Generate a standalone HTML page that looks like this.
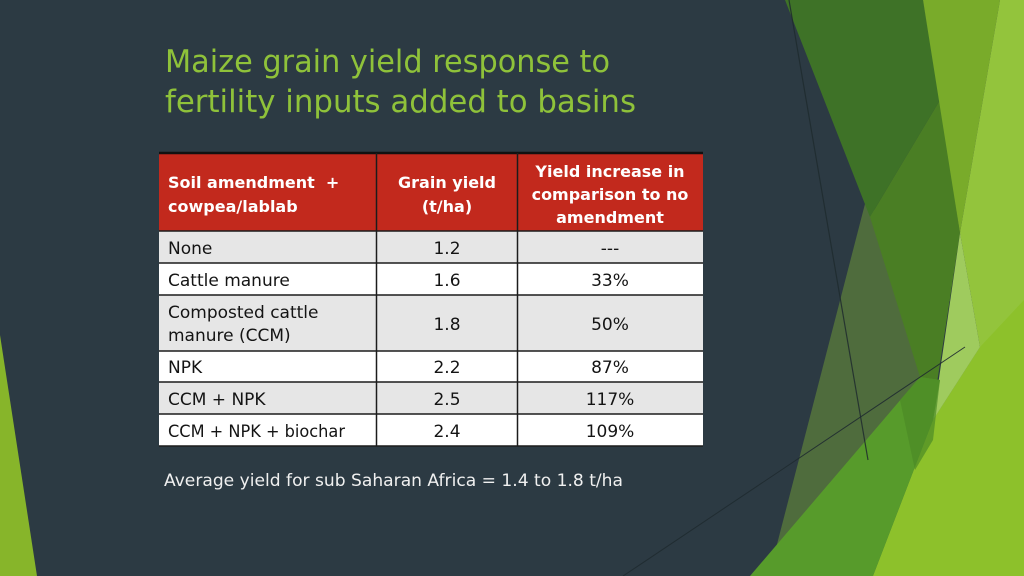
<!DOCTYPE html>
<html>
<head>
<meta charset="utf-8">
<style>
  html,body{margin:0;padding:0;background:#2c3a43;}
  body{width:1024px;height:576px;overflow:hidden;}
  svg{display:block;}
</style>
</head>
<body>
<svg width="1024" height="576" viewBox="0 0 1024 576" xmlns="http://www.w3.org/2000/svg">
  <!-- background -->
  <rect x="0" y="0" width="1024" height="576" fill="#2c3a43"/>

  <!-- left green sliver -->
  <polygon points="0,335 37,576 0,576" fill="#87b52a"/>

  <!-- right decorative facets -->
  <polygon points="866,200 775,552 925,372 950,300" fill="#4f6c3d"/>
  <polygon points="785,0 923,0 940,100 870,217" fill="#3e7227"/>
  <polygon points="940,100 960,233 937,383 920,377 870,217" fill="#4a7e24"/>
  <polygon points="923,0 1000,0 960,233" fill="#79ab2a"/>
  <polygon points="1000,0 1024,0 1024,576 873,576 933,420 980,347 960,233" fill="#93c43c"/>
  <polygon points="873,576 933,420 980,347 1024,300 1024,576" fill="#8dc12b"/>
  <polygon points="960,233 980,347 933,420" fill="#9fcb5e"/>
  <polygon points="750,576 920,377 940,380 933,420 873,576" fill="#579b2b"/>
  <polygon points="900,400 920,377 940,380 933,440 915,470" fill="#4c8a26" opacity="0.7"/>

  <!-- thin lines -->
  <line x1="789" y1="0" x2="868" y2="460" stroke="#1f2b2e" stroke-width="1.2" opacity="0.85"/>
  <line x1="623" y1="576" x2="965" y2="347" stroke="#1f2b30" stroke-width="1" opacity="0.9"/>

  <!-- title -->
  <g font-family="'DejaVu Sans', 'Liberation Sans', sans-serif" font-size="31" fill="#8fc23a">
    <text x="165" y="72" textLength="445" lengthAdjust="spacingAndGlyphs">Maize grain yield response to</text>
    <text x="165" y="112" textLength="471" lengthAdjust="spacingAndGlyphs">fertility inputs added to basins</text>
  </g>

  <!-- table backgrounds -->
  <rect x="159" y="153" width="544" height="78" fill="#c2291d"/>
  <rect x="159" y="231" width="544" height="32" fill="#e6e6e6"/>
  <rect x="159" y="263" width="544" height="32" fill="#ffffff"/>
  <rect x="159" y="295" width="544" height="56" fill="#e6e6e6"/>
  <rect x="159" y="351" width="544" height="31" fill="#ffffff"/>
  <rect x="159" y="382" width="544" height="32" fill="#e6e6e6"/>
  <rect x="159" y="414" width="544" height="32" fill="#ffffff"/>

  <!-- table grid -->
  <line x1="159" y1="153" x2="703" y2="153" stroke="#111" stroke-width="2.5"/>
  <g stroke="#1c1c1c" stroke-width="1.5">
    <line x1="159" y1="231" x2="703" y2="231"/>
    <line x1="159" y1="263" x2="703" y2="263"/>
    <line x1="159" y1="295" x2="703" y2="295"/>
    <line x1="159" y1="351" x2="703" y2="351"/>
    <line x1="159" y1="382" x2="703" y2="382"/>
    <line x1="159" y1="414" x2="703" y2="414"/>
    <line x1="159" y1="446" x2="703" y2="446"/>
    <line x1="376.5" y1="153" x2="376.5" y2="446"/>
    <line x1="517.5" y1="153" x2="517.5" y2="446"/>
  </g>

  <!-- header text -->
  <g font-family="'DejaVu Sans', 'Liberation Sans', sans-serif" font-size="16" font-weight="bold" fill="#ffffff">
    <text x="168" y="188" xml:space="preserve">Soil amendment  +</text>
    <text x="168" y="212">cowpea/lablab</text>
    <text x="447" y="188" text-anchor="middle">Grain yield</text>
    <text x="447" y="212" text-anchor="middle">(t/ha)</text>
    <text x="610" y="177" text-anchor="middle">Yield increase in</text>
    <text x="610" y="200" text-anchor="middle">comparison to no</text>
    <text x="610" y="223" text-anchor="middle">amendment</text>
  </g>

  <!-- body text -->
  <g font-family="'DejaVu Sans', 'Liberation Sans', sans-serif" font-size="17" fill="#141414">
    <text x="168" y="254">None</text>
    <text x="447" y="254" text-anchor="middle">1.2</text>
    <text x="610" y="254" text-anchor="middle">---</text>

    <text x="168" y="286">Cattle manure</text>
    <text x="447" y="286" text-anchor="middle">1.6</text>
    <text x="610" y="286" text-anchor="middle">33%</text>

    <text x="168" y="318">Composted cattle</text>
    <text x="168" y="341">manure (CCM)</text>
    <text x="447" y="330" text-anchor="middle">1.8</text>
    <text x="610" y="330" text-anchor="middle">50%</text>

    <text x="168" y="373">NPK</text>
    <text x="447" y="373" text-anchor="middle">2.2</text>
    <text x="610" y="373" text-anchor="middle">87%</text>

    <text x="168" y="405">CCM + NPK</text>
    <text x="447" y="405" text-anchor="middle">2.5</text>
    <text x="610" y="405" text-anchor="middle">117%</text>

    <text x="168" y="437" textLength="177" lengthAdjust="spacingAndGlyphs">CCM + NPK + biochar</text>
    <text x="447" y="437" text-anchor="middle">2.4</text>
    <text x="610" y="437" text-anchor="middle">109%</text>
  </g>

  <!-- footer note -->
  <text x="164" y="486" font-family="'DejaVu Sans', 'Liberation Sans', sans-serif" font-size="17" fill="#f0f0f0" textLength="459" lengthAdjust="spacingAndGlyphs">Average yield for sub Saharan Africa = 1.4 to 1.8 t/ha</text>
</svg>
</body>
</html>
